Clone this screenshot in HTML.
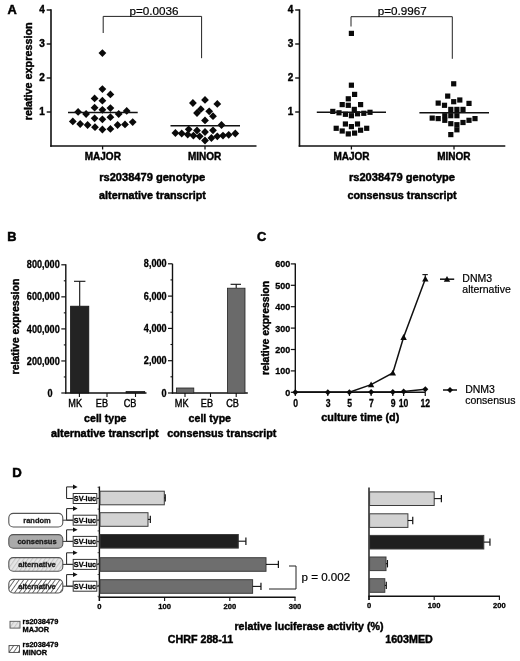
<!DOCTYPE html>
<html><head><meta charset="utf-8"><title>Figure</title>
<style>
html,body{margin:0;padding:0;background:#fff;}
svg{display:block;font-family:'Liberation Sans', Arial, sans-serif;}
</style></head><body>
<svg width="520" height="661" viewBox="0 0 520 661">
<rect width="520" height="661" fill="#fff"/>
<text x="7.5" y="14.3" font-size="12.8" font-weight="bold" text-anchor="start" fill="#000" stroke="#000" stroke-width="0.51" >A</text>
<line x1="51" y1="9.3" x2="51" y2="146.7" stroke="#111" stroke-width="1.6" />
<line x1="50.2" y1="146" x2="256.5" y2="146" stroke="#111" stroke-width="1.6" />
<line x1="46.7" y1="10" x2="51" y2="10" stroke="#111" stroke-width="1.4" />
<text x="44.8" y="13.0" font-size="10" font-weight="bold" text-anchor="end" fill="#000" stroke="#000" stroke-width="0.4" >4</text>
<line x1="46.7" y1="44" x2="51" y2="44" stroke="#111" stroke-width="1.4" />
<text x="44.8" y="47.0" font-size="10" font-weight="bold" text-anchor="end" fill="#000" stroke="#000" stroke-width="0.4" >3</text>
<line x1="46.7" y1="78" x2="51" y2="78" stroke="#111" stroke-width="1.4" />
<text x="44.8" y="81.0" font-size="10" font-weight="bold" text-anchor="end" fill="#000" stroke="#000" stroke-width="0.4" >2</text>
<line x1="46.7" y1="112" x2="51" y2="112" stroke="#111" stroke-width="1.4" />
<text x="44.8" y="115.0" font-size="10" font-weight="bold" text-anchor="end" fill="#000" stroke="#000" stroke-width="0.4" >1</text>
<line x1="102.6" y1="146" x2="102.6" y2="149.5" stroke="#111" stroke-width="1.3" />
<line x1="205" y1="146" x2="205" y2="149.5" stroke="#111" stroke-width="1.3" />
<text x="102.8" y="159.6" font-size="10" font-weight="bold" text-anchor="middle" fill="#000" stroke="#000" stroke-width="0.4" >MAJOR</text>
<text x="204.6" y="159.6" font-size="10" font-weight="bold" text-anchor="middle" fill="#000" stroke="#000" stroke-width="0.4" >MINOR</text>
<text x="32" y="71.3" font-size="10.8" font-weight="bold" text-anchor="middle" fill="#000" stroke="#000" stroke-width="0.43" transform="rotate(-90 32 71.3)">relative expression</text>
<path d="M98.5 53.1L102.4 49.2L106.3 53.1L102.4 57.0Z" fill="#0a0a0a"/>
<path d="M98.5 89.1L102.4 85.2L106.3 89.1L102.4 93.0Z" fill="#0a0a0a"/>
<path d="M106.5 94.4L110.4 90.5L114.3 94.4L110.4 98.3Z" fill="#0a0a0a"/>
<path d="M90.7 98.4L94.6 94.5L98.5 98.4L94.6 102.3Z" fill="#0a0a0a"/>
<path d="M98.5 100.7L102.4 96.8L106.3 100.7L102.4 104.6Z" fill="#0a0a0a"/>
<path d="M90.7 107.7L94.6 103.8L98.5 107.7L94.6 111.6Z" fill="#0a0a0a"/>
<path d="M106.5 108.1L110.4 104.2L114.3 108.1L110.4 112.0Z" fill="#0a0a0a"/>
<path d="M98.5 109.8L102.4 105.9L106.3 109.8L102.4 113.7Z" fill="#0a0a0a"/>
<path d="M74.2 111.9L78.1 108.0L82.0 111.9L78.1 115.8Z" fill="#0a0a0a"/>
<path d="M122.8 110.9L126.7 107.0L130.6 110.9L126.7 114.8Z" fill="#0a0a0a"/>
<path d="M82.2 114.0L86.1 110.1L90.0 114.0L86.1 117.9Z" fill="#0a0a0a"/>
<path d="M114.8 114.0L118.7 110.1L122.6 114.0L118.7 117.9Z" fill="#0a0a0a"/>
<path d="M106.5 117.2L110.4 113.3L114.3 117.2L110.4 121.1Z" fill="#0a0a0a"/>
<path d="M90.7 118.3L94.6 114.4L98.5 118.3L94.6 122.2Z" fill="#0a0a0a"/>
<path d="M98.5 119.3L102.4 115.4L106.3 119.3L102.4 123.2Z" fill="#0a0a0a"/>
<path d="M68.9 121.4L72.8 117.5L76.7 121.4L72.8 125.3Z" fill="#0a0a0a"/>
<path d="M128.8 122.1L132.7 118.2L136.6 122.1L132.7 126.0Z" fill="#0a0a0a"/>
<path d="M76.3 124.0L80.2 120.1L84.1 124.0L80.2 127.9Z" fill="#0a0a0a"/>
<path d="M121.1 124.4L125.0 120.5L128.9 124.4L125.0 128.3Z" fill="#0a0a0a"/>
<path d="M83.7 125.0L87.6 121.1L91.5 125.0L87.6 128.9Z" fill="#0a0a0a"/>
<path d="M113.7 125.0L117.6 121.1L121.5 125.0L117.6 128.9Z" fill="#0a0a0a"/>
<path d="M91.1 127.2L95.0 123.3L98.9 127.2L95.0 131.1Z" fill="#0a0a0a"/>
<path d="M106.5 128.9L110.4 125.0L114.3 128.9L110.4 132.8Z" fill="#0a0a0a"/>
<path d="M98.5 129.5L102.4 125.6L106.3 129.5L102.4 133.4Z" fill="#0a0a0a"/>
<line x1="68" y1="112.5" x2="137.7" y2="112.5" stroke="#111" stroke-width="1.5" />
<path d="M201.1 99.9L205.0 96.0L208.9 99.9L205.0 103.8Z" fill="#0a0a0a"/>
<path d="M189.0 103.0L192.9 99.1L196.8 103.0L192.9 106.9Z" fill="#0a0a0a"/>
<path d="M213.4 103.9L217.3 100.0L221.2 103.9L217.3 107.8Z" fill="#0a0a0a"/>
<path d="M196.9 109.2L200.8 105.3L204.7 109.2L200.8 113.1Z" fill="#0a0a0a"/>
<path d="M205.3 111.3L209.2 107.4L213.1 111.3L209.2 115.2Z" fill="#0a0a0a"/>
<path d="M193.1 113.0L197.0 109.1L200.9 113.0L197.0 116.9Z" fill="#0a0a0a"/>
<path d="M209.1 116.2L213.0 112.3L216.9 116.2L213.0 120.1Z" fill="#0a0a0a"/>
<path d="M201.1 120.4L205.0 116.5L208.9 120.4L205.0 124.3Z" fill="#0a0a0a"/>
<path d="M217.6 125.0L221.5 121.1L225.4 125.0L221.5 128.9Z" fill="#0a0a0a"/>
<path d="M184.8 129.3L188.7 125.4L192.6 129.3L188.7 133.2Z" fill="#0a0a0a"/>
<path d="M193.1 130.5L197.0 126.6L200.9 130.5L197.0 134.4Z" fill="#0a0a0a"/>
<path d="M209.1 130.3L213.0 126.4L216.9 130.3L213.0 134.2Z" fill="#0a0a0a"/>
<path d="M201.1 132.0L205.0 128.1L208.9 132.0L205.0 135.9Z" fill="#0a0a0a"/>
<path d="M171.5 133.0L175.4 129.1L179.3 133.0L175.4 136.9Z" fill="#0a0a0a"/>
<path d="M177.8 133.5L181.7 129.6L185.6 133.5L181.7 137.4Z" fill="#0a0a0a"/>
<path d="M183.8 134.6L187.7 130.7L191.6 134.6L187.7 138.5Z" fill="#0a0a0a"/>
<path d="M189.5 135.6L193.4 131.7L197.3 135.6L193.4 139.5Z" fill="#0a0a0a"/>
<path d="M195.8 136.3L199.7 132.4L203.6 136.3L199.7 140.2Z" fill="#0a0a0a"/>
<path d="M231.4 133.5L235.3 129.6L239.2 133.5L235.3 137.4Z" fill="#0a0a0a"/>
<path d="M224.8 134.8L228.7 130.9L232.6 134.8L228.7 138.7Z" fill="#0a0a0a"/>
<path d="M219.1 135.6L223.0 131.7L226.9 135.6L223.0 139.5Z" fill="#0a0a0a"/>
<path d="M213.4 136.3L217.3 132.4L221.2 136.3L217.3 140.2Z" fill="#0a0a0a"/>
<path d="M207.5 138.0L211.4 134.1L215.3 138.0L211.4 141.9Z" fill="#0a0a0a"/>
<path d="M201.1 140.5L205.0 136.6L208.9 140.5L205.0 144.4Z" fill="#0a0a0a"/>
<line x1="170.5" y1="125.7" x2="240" y2="125.7" stroke="#111" stroke-width="1.5" />
<path d="M103.2 33V16.4H201.6V58.2" fill="none" stroke="#222" stroke-width="1"/>
<text x="154" y="15.2" font-size="11.7" font-weight="normal" text-anchor="middle" fill="#000" stroke="#000" stroke-width="0.2" >p=0.0036</text>
<text x="152.2" y="181.4" font-size="11.1" font-weight="bold" text-anchor="middle" fill="#000" stroke="#000" stroke-width="0.44" >rs2038479 genotype</text>
<text x="152.5" y="198.6" font-size="10.8" font-weight="bold" text-anchor="middle" fill="#000" stroke="#000" stroke-width="0.43" >alternative transcript</text>
<line x1="299.5" y1="9.3" x2="299.5" y2="146.7" stroke="#111" stroke-width="1.6" />
<line x1="298.7" y1="146" x2="505.3" y2="146" stroke="#111" stroke-width="1.6" />
<line x1="295.2" y1="10" x2="299.5" y2="10" stroke="#111" stroke-width="1.4" />
<text x="293.3" y="13.0" font-size="10" font-weight="bold" text-anchor="end" fill="#000" stroke="#000" stroke-width="0.4" >4</text>
<line x1="295.2" y1="44" x2="299.5" y2="44" stroke="#111" stroke-width="1.4" />
<text x="293.3" y="47.0" font-size="10" font-weight="bold" text-anchor="end" fill="#000" stroke="#000" stroke-width="0.4" >3</text>
<line x1="295.2" y1="78" x2="299.5" y2="78" stroke="#111" stroke-width="1.4" />
<text x="293.3" y="81.0" font-size="10" font-weight="bold" text-anchor="end" fill="#000" stroke="#000" stroke-width="0.4" >2</text>
<line x1="295.2" y1="112" x2="299.5" y2="112" stroke="#111" stroke-width="1.4" />
<text x="293.3" y="115.0" font-size="10" font-weight="bold" text-anchor="end" fill="#000" stroke="#000" stroke-width="0.4" >1</text>
<line x1="351.4" y1="146" x2="351.4" y2="149.5" stroke="#111" stroke-width="1.3" />
<line x1="454" y1="146" x2="454" y2="149.5" stroke="#111" stroke-width="1.3" />
<text x="351.5" y="159.6" font-size="10" font-weight="bold" text-anchor="middle" fill="#000" stroke="#000" stroke-width="0.4" >MAJOR</text>
<text x="453.8" y="159.6" font-size="10" font-weight="bold" text-anchor="middle" fill="#000" stroke="#000" stroke-width="0.4" >MINOR</text>
<rect x="348.8" y="30.8" width="5.2" height="5.2" fill="#0a0a0a"/>
<rect x="348.8" y="82.6" width="5.2" height="5.2" fill="#0a0a0a"/>
<rect x="352.0" y="91.8" width="5.2" height="5.2" fill="#0a0a0a"/>
<rect x="345.7" y="96.2" width="5.2" height="5.2" fill="#0a0a0a"/>
<rect x="339.6" y="102.0" width="5.2" height="5.2" fill="#0a0a0a"/>
<rect x="345.7" y="102.7" width="5.2" height="5.2" fill="#0a0a0a"/>
<rect x="358.0" y="102.0" width="5.2" height="5.2" fill="#0a0a0a"/>
<rect x="351.7" y="106.8" width="5.2" height="5.2" fill="#0a0a0a"/>
<rect x="330.2" y="108.8" width="5.2" height="5.2" fill="#0a0a0a"/>
<rect x="336.4" y="110.2" width="5.2" height="5.2" fill="#0a0a0a"/>
<rect x="342.8" y="111.7" width="5.2" height="5.2" fill="#0a0a0a"/>
<rect x="348.8" y="113.1" width="5.2" height="5.2" fill="#0a0a0a"/>
<rect x="354.9" y="111.2" width="5.2" height="5.2" fill="#0a0a0a"/>
<rect x="361.2" y="110.7" width="5.2" height="5.2" fill="#0a0a0a"/>
<rect x="367.4" y="109.7" width="5.2" height="5.2" fill="#0a0a0a"/>
<rect x="342.8" y="121.4" width="5.2" height="5.2" fill="#0a0a0a"/>
<rect x="354.9" y="121.4" width="5.2" height="5.2" fill="#0a0a0a"/>
<rect x="348.8" y="124.0" width="5.2" height="5.2" fill="#0a0a0a"/>
<rect x="333.6" y="125.7" width="5.2" height="5.2" fill="#0a0a0a"/>
<rect x="364.1" y="125.7" width="5.2" height="5.2" fill="#0a0a0a"/>
<rect x="339.6" y="128.4" width="5.2" height="5.2" fill="#0a0a0a"/>
<rect x="358.0" y="127.6" width="5.2" height="5.2" fill="#0a0a0a"/>
<rect x="345.7" y="131.3" width="5.2" height="5.2" fill="#0a0a0a"/>
<rect x="352.0" y="130.5" width="5.2" height="5.2" fill="#0a0a0a"/>
<line x1="316.8" y1="112.3" x2="386" y2="112.3" stroke="#111" stroke-width="1.5" />
<rect x="451.1" y="81.2" width="5.2" height="5.2" fill="#0a0a0a"/>
<rect x="445.1" y="93.5" width="5.2" height="5.2" fill="#0a0a0a"/>
<rect x="457.2" y="97.4" width="5.2" height="5.2" fill="#0a0a0a"/>
<rect x="451.1" y="99.1" width="5.2" height="5.2" fill="#0a0a0a"/>
<rect x="435.6" y="100.5" width="5.2" height="5.2" fill="#0a0a0a"/>
<rect x="466.4" y="100.8" width="5.2" height="5.2" fill="#0a0a0a"/>
<rect x="441.9" y="102.7" width="5.2" height="5.2" fill="#0a0a0a"/>
<rect x="448.2" y="106.8" width="5.2" height="5.2" fill="#0a0a0a"/>
<rect x="454.3" y="106.8" width="5.2" height="5.2" fill="#0a0a0a"/>
<rect x="460.4" y="106.8" width="5.2" height="5.2" fill="#0a0a0a"/>
<rect x="442.2" y="113.1" width="5.2" height="5.2" fill="#0a0a0a"/>
<rect x="448.2" y="113.1" width="5.2" height="5.2" fill="#0a0a0a"/>
<rect x="454.3" y="113.1" width="5.2" height="5.2" fill="#0a0a0a"/>
<rect x="429.6" y="115.5" width="5.2" height="5.2" fill="#0a0a0a"/>
<rect x="435.6" y="116.0" width="5.2" height="5.2" fill="#0a0a0a"/>
<rect x="442.2" y="117.7" width="5.2" height="5.2" fill="#0a0a0a"/>
<rect x="472.4" y="116.0" width="5.2" height="5.2" fill="#0a0a0a"/>
<rect x="466.4" y="117.7" width="5.2" height="5.2" fill="#0a0a0a"/>
<rect x="460.4" y="119.9" width="5.2" height="5.2" fill="#0a0a0a"/>
<rect x="448.2" y="121.1" width="5.2" height="5.2" fill="#0a0a0a"/>
<rect x="454.3" y="122.1" width="5.2" height="5.2" fill="#0a0a0a"/>
<rect x="454.3" y="127.2" width="5.2" height="5.2" fill="#0a0a0a"/>
<rect x="448.2" y="132.0" width="5.2" height="5.2" fill="#0a0a0a"/>
<line x1="419.4" y1="112.8" x2="489" y2="112.8" stroke="#111" stroke-width="1.5" />
<path d="M351 26.5V16.7H452.3V58.8" fill="none" stroke="#222" stroke-width="1"/>
<text x="402.2" y="15.2" font-size="11.7" font-weight="normal" text-anchor="middle" fill="#000" stroke="#000" stroke-width="0.2" >p=0.9967</text>
<text x="402" y="181.4" font-size="11.1" font-weight="bold" text-anchor="middle" fill="#000" stroke="#000" stroke-width="0.44" >rs2038479 genotype</text>
<text x="402" y="198.6" font-size="10.8" font-weight="bold" text-anchor="middle" fill="#000" stroke="#000" stroke-width="0.43" >consensus transcript</text>
<text x="7.3" y="240.7" font-size="12.8" font-weight="bold" text-anchor="start" fill="#000" stroke="#000" stroke-width="0.51" >B</text>
<line x1="65.8" y1="264.3" x2="65.8" y2="393.6" stroke="#111" stroke-width="1.4" />
<line x1="65.1" y1="393" x2="146.5" y2="393" stroke="#111" stroke-width="1.4" />
<line x1="61.3" y1="264.8" x2="65.8" y2="264.8" stroke="#111" stroke-width="1.2" />
<text transform="translate(59.7 268.40000000000003) scale(0.91 1)" font-size="10" font-weight="bold" text-anchor="end" fill="#000" stroke="#000" stroke-width="0.3">800,000</text>
<line x1="63.8" y1="280.8" x2="65.8" y2="280.8" stroke="#111" stroke-width="1.1" />
<line x1="61.3" y1="296.85" x2="65.8" y2="296.85" stroke="#111" stroke-width="1.2" />
<text transform="translate(59.7 300.45000000000005) scale(0.91 1)" font-size="10" font-weight="bold" text-anchor="end" fill="#000" stroke="#000" stroke-width="0.3">600,000</text>
<line x1="63.8" y1="312.85" x2="65.8" y2="312.85" stroke="#111" stroke-width="1.1" />
<line x1="61.3" y1="328.9" x2="65.8" y2="328.9" stroke="#111" stroke-width="1.2" />
<text transform="translate(59.7 332.5) scale(0.91 1)" font-size="10" font-weight="bold" text-anchor="end" fill="#000" stroke="#000" stroke-width="0.3">400,000</text>
<line x1="63.8" y1="344.9" x2="65.8" y2="344.9" stroke="#111" stroke-width="1.1" />
<line x1="61.3" y1="360.95" x2="65.8" y2="360.95" stroke="#111" stroke-width="1.2" />
<text transform="translate(59.7 364.55) scale(0.91 1)" font-size="10" font-weight="bold" text-anchor="end" fill="#000" stroke="#000" stroke-width="0.3">200,000</text>
<line x1="63.8" y1="376.95" x2="65.8" y2="376.95" stroke="#111" stroke-width="1.1" />
<line x1="61.3" y1="393.0" x2="65.8" y2="393.0" stroke="#111" stroke-width="1.2" />
<text transform="translate(50 396.8) scale(0.91 1)" font-size="10" font-weight="bold" text-anchor="middle" fill="#000" stroke="#000" stroke-width="0.3">0</text>
<rect x="70.6" y="306.2" width="18.2" height="86.8" fill="#232323" stroke="#111" stroke-width="0.8"/>
<line x1="79.7" y1="281.3" x2="79.7" y2="306" stroke="#111" stroke-width="1.1" />
<line x1="74" y1="281.3" x2="85.4" y2="281.3" stroke="#111" stroke-width="1.1" />
<rect x="126" y="391.3" width="18.8" height="1.7" fill="#232323" stroke="#111" stroke-width="0.6"/>
<line x1="79.4" y1="393" x2="79.4" y2="397" stroke="#111" stroke-width="1.1" />
<line x1="107" y1="393" x2="107" y2="397" stroke="#111" stroke-width="1.1" />
<line x1="135.5" y1="393" x2="135.5" y2="397" stroke="#111" stroke-width="1.1" />
<text transform="translate(75.2 407.3) scale(0.85 1)" font-size="10.8" font-weight="normal" text-anchor="middle" fill="#000" stroke="#000" stroke-width="0.4">MK</text>
<text transform="translate(102 407.3) scale(0.85 1)" font-size="10.8" font-weight="normal" text-anchor="middle" fill="#000" stroke="#000" stroke-width="0.4">EB</text>
<text transform="translate(130 407.3) scale(0.85 1)" font-size="10.8" font-weight="normal" text-anchor="middle" fill="#000" stroke="#000" stroke-width="0.4">CB</text>
<text x="18.7" y="326.5" font-size="10.6" font-weight="bold" text-anchor="middle" fill="#000" stroke="#000" stroke-width="0.42" transform="rotate(-90 18.7 326.5)">relative expression</text>
<text x="105.3" y="422" font-size="10.6" font-weight="bold" text-anchor="middle" fill="#000" stroke="#000" stroke-width="0.42" >cell type</text>
<text x="104.8" y="437" font-size="10.9" font-weight="bold" text-anchor="middle" fill="#000" stroke="#000" stroke-width="0.44" >alternative transcript</text>
<line x1="172.5" y1="263.8" x2="172.5" y2="393.6" stroke="#111" stroke-width="1.4" />
<line x1="171.8" y1="393" x2="247.8" y2="393" stroke="#111" stroke-width="1.4" />
<line x1="168.0" y1="263.8" x2="172.5" y2="263.8" stroke="#111" stroke-width="1.2" />
<text transform="translate(166.6 267.40000000000003) scale(0.91 1)" font-size="10" font-weight="bold" text-anchor="end" fill="#000" stroke="#000" stroke-width="0.3">8,000</text>
<line x1="170.5" y1="279.90000000000003" x2="172.5" y2="279.90000000000003" stroke="#111" stroke-width="1.1" />
<line x1="168.0" y1="296.1" x2="172.5" y2="296.1" stroke="#111" stroke-width="1.2" />
<text transform="translate(166.6 299.70000000000005) scale(0.91 1)" font-size="10" font-weight="bold" text-anchor="end" fill="#000" stroke="#000" stroke-width="0.3">6,000</text>
<line x1="170.5" y1="312.20000000000005" x2="172.5" y2="312.20000000000005" stroke="#111" stroke-width="1.1" />
<line x1="168.0" y1="328.4" x2="172.5" y2="328.4" stroke="#111" stroke-width="1.2" />
<text transform="translate(166.6 332.0) scale(0.91 1)" font-size="10" font-weight="bold" text-anchor="end" fill="#000" stroke="#000" stroke-width="0.3">4,000</text>
<line x1="170.5" y1="344.5" x2="172.5" y2="344.5" stroke="#111" stroke-width="1.1" />
<line x1="168.0" y1="360.7" x2="172.5" y2="360.7" stroke="#111" stroke-width="1.2" />
<text transform="translate(166.6 364.3) scale(0.91 1)" font-size="10" font-weight="bold" text-anchor="end" fill="#000" stroke="#000" stroke-width="0.3">2,000</text>
<line x1="170.5" y1="376.8" x2="172.5" y2="376.8" stroke="#111" stroke-width="1.1" />
<line x1="168.0" y1="393.0" x2="172.5" y2="393.0" stroke="#111" stroke-width="1.2" />
<text transform="translate(166.6 396.6) scale(0.91 1)" font-size="10" font-weight="bold" text-anchor="end" fill="#000" stroke="#000" stroke-width="0.3">0</text>
<rect x="176.4" y="388" width="17.4" height="5" fill="#6a6a6a" stroke="#222" stroke-width="0.8"/>
<rect x="227.4" y="288.2" width="17.6" height="104.8" fill="#6a6a6a" stroke="#222" stroke-width="0.8"/>
<line x1="236.2" y1="284.3" x2="236.2" y2="288" stroke="#111" stroke-width="1.1" />
<line x1="230.6" y1="284.3" x2="241" y2="284.3" stroke="#111" stroke-width="1.1" />
<line x1="185" y1="393" x2="185" y2="397" stroke="#111" stroke-width="1.1" />
<line x1="210.5" y1="393" x2="210.5" y2="397" stroke="#111" stroke-width="1.1" />
<line x1="236.2" y1="393" x2="236.2" y2="397" stroke="#111" stroke-width="1.1" />
<text transform="translate(181.7 407.3) scale(0.85 1)" font-size="10.8" font-weight="normal" text-anchor="middle" fill="#000" stroke="#000" stroke-width="0.4">MK</text>
<text transform="translate(207 407.3) scale(0.85 1)" font-size="10.8" font-weight="normal" text-anchor="middle" fill="#000" stroke="#000" stroke-width="0.4">EB</text>
<text transform="translate(232.6 407.3) scale(0.85 1)" font-size="10.8" font-weight="normal" text-anchor="middle" fill="#000" stroke="#000" stroke-width="0.4">CB</text>
<text x="209.8" y="422" font-size="10.6" font-weight="bold" text-anchor="middle" fill="#000" stroke="#000" stroke-width="0.42" >cell type</text>
<text x="221.8" y="437" font-size="10.8" font-weight="bold" text-anchor="middle" fill="#000" stroke="#000" stroke-width="0.43" >consensus transcript</text>
<text x="257" y="240.7" font-size="12.8" font-weight="bold" text-anchor="start" fill="#000" stroke="#000" stroke-width="0.51" >C</text>
<line x1="295.3" y1="263.4" x2="295.3" y2="393" stroke="#111" stroke-width="1.4" />
<line x1="294.6" y1="392.3" x2="425.4" y2="392.3" stroke="#111" stroke-width="1.6" />
<line x1="290.8" y1="263.9" x2="295.3" y2="263.9" stroke="#111" stroke-width="1.2" />
<text transform="translate(290.3 267.4) scale(0.93 1)" font-size="9.7" font-weight="bold" text-anchor="end" fill="#000" stroke="#000" stroke-width="0.3">600</text>
<line x1="290.8" y1="285.29999999999995" x2="295.3" y2="285.29999999999995" stroke="#111" stroke-width="1.2" />
<text transform="translate(290.3 288.79999999999995) scale(0.93 1)" font-size="9.7" font-weight="bold" text-anchor="end" fill="#000" stroke="#000" stroke-width="0.3">500</text>
<line x1="290.8" y1="306.7" x2="295.3" y2="306.7" stroke="#111" stroke-width="1.2" />
<text transform="translate(290.3 310.2) scale(0.93 1)" font-size="9.7" font-weight="bold" text-anchor="end" fill="#000" stroke="#000" stroke-width="0.3">400</text>
<line x1="290.8" y1="328.09999999999997" x2="295.3" y2="328.09999999999997" stroke="#111" stroke-width="1.2" />
<text transform="translate(290.3 331.59999999999997) scale(0.93 1)" font-size="9.7" font-weight="bold" text-anchor="end" fill="#000" stroke="#000" stroke-width="0.3">300</text>
<line x1="290.8" y1="349.5" x2="295.3" y2="349.5" stroke="#111" stroke-width="1.2" />
<text transform="translate(290.3 353.0) scale(0.93 1)" font-size="9.7" font-weight="bold" text-anchor="end" fill="#000" stroke="#000" stroke-width="0.3">200</text>
<line x1="290.8" y1="370.9" x2="295.3" y2="370.9" stroke="#111" stroke-width="1.2" />
<text transform="translate(290.3 374.4) scale(0.93 1)" font-size="9.7" font-weight="bold" text-anchor="end" fill="#000" stroke="#000" stroke-width="0.3">100</text>
<line x1="290.8" y1="392.29999999999995" x2="295.3" y2="392.29999999999995" stroke="#111" stroke-width="1.2" />
<text transform="translate(290.3 395.79999999999995) scale(0.93 1)" font-size="9.7" font-weight="bold" text-anchor="end" fill="#000" stroke="#000" stroke-width="0.3">0</text>
<line x1="295.3" y1="392.3" x2="295.3" y2="396" stroke="#111" stroke-width="1.2" />
<text transform="translate(295.6 406.9) scale(0.8 1)" font-size="10.8" font-weight="bold" text-anchor="middle" fill="#000" stroke="#000" stroke-width="0.3">0</text>
<line x1="327.79" y1="392.3" x2="327.79" y2="396" stroke="#111" stroke-width="1.2" />
<text transform="translate(328.09000000000003 406.9) scale(0.8 1)" font-size="10.8" font-weight="bold" text-anchor="middle" fill="#000" stroke="#000" stroke-width="0.3">3</text>
<line x1="349.45" y1="392.3" x2="349.45" y2="396" stroke="#111" stroke-width="1.2" />
<text transform="translate(349.75 406.9) scale(0.8 1)" font-size="10.8" font-weight="bold" text-anchor="middle" fill="#000" stroke="#000" stroke-width="0.3">5</text>
<line x1="371.11" y1="392.3" x2="371.11" y2="396" stroke="#111" stroke-width="1.2" />
<text transform="translate(371.41 406.9) scale(0.8 1)" font-size="10.8" font-weight="bold" text-anchor="middle" fill="#000" stroke="#000" stroke-width="0.3">7</text>
<line x1="392.77" y1="392.3" x2="392.77" y2="396" stroke="#111" stroke-width="1.2" />
<text transform="translate(393.07 406.9) scale(0.8 1)" font-size="10.8" font-weight="bold" text-anchor="middle" fill="#000" stroke="#000" stroke-width="0.3">9</text>
<line x1="403.6" y1="392.3" x2="403.6" y2="396" stroke="#111" stroke-width="1.2" />
<text transform="translate(403.6 406.9) scale(0.8 1)" font-size="10.8" font-weight="bold" text-anchor="middle" fill="#000" stroke="#000" stroke-width="0.3">10</text>
<line x1="425.26" y1="392.3" x2="425.26" y2="396" stroke="#111" stroke-width="1.2" />
<text transform="translate(425.26 406.9) scale(0.8 1)" font-size="10.8" font-weight="bold" text-anchor="middle" fill="#000" stroke="#000" stroke-width="0.3">12</text>
<polyline points="295.3,392.3 327.8,392.3 349.4,392.3 371.1,384.6 392.8,373.0 403.6,337.3 425.3,278.9" fill="none" stroke="#111" stroke-width="1.5"/>
<polyline points="295.3,392.3 327.8,392.3 349.4,392.3 371.1,392.1 392.8,392.0 403.6,391.4 425.3,389.3" fill="none" stroke="#111" stroke-width="1.5"/>
<path d="M367.9 387.2L371.1 381.4L374.3 387.2Z" fill="#0a0a0a"/>
<path d="M389.6 375.6L392.8 369.8L396.0 375.6Z" fill="#0a0a0a"/>
<path d="M400.4 339.9L403.6 334.1L406.8 339.9Z" fill="#0a0a0a"/>
<path d="M422.1 281.4L425.3 275.7L428.5 281.4Z" fill="#0a0a0a"/>
<path d="M292.3 392.3L295.3 389.3L298.3 392.3L295.3 395.3Z" fill="#0a0a0a"/>
<path d="M324.8 392.3L327.8 389.3L330.8 392.3L327.8 395.3Z" fill="#0a0a0a"/>
<path d="M346.4 392.3L349.4 389.3L352.4 392.3L349.4 395.3Z" fill="#0a0a0a"/>
<path d="M368.1 392.1L371.1 389.1L374.1 392.1L371.1 395.1Z" fill="#0a0a0a"/>
<path d="M389.8 392.0L392.8 389.0L395.8 392.0L392.8 395.0Z" fill="#0a0a0a"/>
<path d="M400.6 391.4L403.6 388.4L406.6 391.4L403.6 394.4Z" fill="#0a0a0a"/>
<path d="M422.3 389.3L425.3 386.3L428.3 389.3L425.3 392.3Z" fill="#0a0a0a"/>
<line x1="425.26" y1="274.6" x2="425.26" y2="279" stroke="#111" stroke-width="1.1" />
<line x1="422.4" y1="274.6" x2="427.8" y2="274.6" stroke="#111" stroke-width="1.1" />
<text x="269.2" y="328" font-size="10.4" font-weight="bold" text-anchor="middle" fill="#000" stroke="#000" stroke-width="0.42" transform="rotate(-90 269.2 328)">relative expression</text>
<text x="360.3" y="421.2" font-size="10.8" font-weight="bold" text-anchor="middle" fill="#000" stroke="#000" stroke-width="0.43" >culture time (d)</text>
<line x1="440" y1="279.2" x2="454.2" y2="279.2" stroke="#111" stroke-width="1.5" />
<path d="M443.8 281.8L447.0 276.0L450.2 281.8Z" fill="#0a0a0a"/>
<text x="462.3" y="281.6" font-size="10.5" font-weight="normal" text-anchor="start" fill="#000" stroke="#000" stroke-width="0.2" >DNM3</text>
<text x="462.3" y="292.8" font-size="10.5" font-weight="normal" text-anchor="start" fill="#000" stroke="#000" stroke-width="0.2" >alternative</text>
<line x1="443" y1="390" x2="457" y2="390" stroke="#111" stroke-width="1.5" />
<path d="M447.0 390.0L450.0 387.0L453.0 390.0L450.0 393.0Z" fill="#0a0a0a"/>
<text x="465.2" y="393.2" font-size="10.5" font-weight="normal" text-anchor="start" fill="#000" stroke="#000" stroke-width="0.2" >DNM3</text>
<text x="465.2" y="404.2" font-size="10.5" font-weight="normal" text-anchor="start" fill="#000" stroke="#000" stroke-width="0.2" >consensus</text>
<text x="12.3" y="477" font-size="13.2" font-weight="bold" text-anchor="start" fill="#000" stroke="#000" stroke-width="0.53" >D</text>
<defs>
<pattern id="hl" width="3.5" height="3.5" patternUnits="userSpaceOnUse" patternTransform="rotate(35)"><rect width="3.5" height="3.5" fill="#e6e6e6"/><rect width="1.1" height="3.5" fill="#c6c6c6"/></pattern>
<pattern id="hd" width="3.7" height="3.7" patternUnits="userSpaceOnUse" patternTransform="rotate(35)"><rect width="3.7" height="3.7" fill="#fff"/><rect width="0.8" height="3.7" fill="#505050"/></pattern>
</defs>
<line x1="99.4" y1="486.5" x2="99.4" y2="601" stroke="#111" stroke-width="1.4" />
<line x1="98.7" y1="597.2" x2="295.6" y2="597.2" stroke="#111" stroke-width="1.4" />
<line x1="97.6" y1="487.3" x2="99.4" y2="487.3" stroke="#333" stroke-width="0.9" />
<line x1="97.6" y1="498.2" x2="99.4" y2="498.2" stroke="#333" stroke-width="0.9" />
<line x1="97.6" y1="509.1" x2="99.4" y2="509.1" stroke="#333" stroke-width="0.9" />
<line x1="97.6" y1="520.0" x2="99.4" y2="520.0" stroke="#333" stroke-width="0.9" />
<line x1="97.6" y1="530.9" x2="99.4" y2="530.9" stroke="#333" stroke-width="0.9" />
<line x1="97.6" y1="541.8" x2="99.4" y2="541.8" stroke="#333" stroke-width="0.9" />
<line x1="97.6" y1="552.7" x2="99.4" y2="552.7" stroke="#333" stroke-width="0.9" />
<line x1="97.6" y1="563.6" x2="99.4" y2="563.6" stroke="#333" stroke-width="0.9" />
<line x1="97.6" y1="574.5" x2="99.4" y2="574.5" stroke="#333" stroke-width="0.9" />
<line x1="97.6" y1="585.4" x2="99.4" y2="585.4" stroke="#333" stroke-width="0.9" />
<line x1="97.6" y1="596.3" x2="99.4" y2="596.3" stroke="#333" stroke-width="0.9" />
<path d="M73 498.5H66.6V486.9H73.5" fill="none" stroke="#222" stroke-width="1"/>
<path d="M73 484.6L77.6 486.9L73 489.2Z" fill="#111"/>
<rect x="73.2" y="493.5" width="23.6" height="10" fill="#fff" stroke="#333" stroke-width="1"/>
<line x1="96.8" y1="498.5" x2="99.4" y2="498.5" stroke="#333" stroke-width="1" />
<text x="85" y="501.2" font-size="7.3" font-weight="bold" text-anchor="middle" fill="#000" stroke="#000" stroke-width="0.29" >SV-luc</text>
<path d="M73 520.2H66.6V508.6H73.5" fill="none" stroke="#222" stroke-width="1"/>
<path d="M73 506.30000000000007L77.6 508.6L73 510.90000000000003Z" fill="#111"/>
<rect x="73.2" y="515.2" width="23.6" height="10" fill="#fff" stroke="#333" stroke-width="1"/>
<line x1="96.8" y1="520.2" x2="99.4" y2="520.2" stroke="#333" stroke-width="1" />
<text x="85" y="522.9000000000001" font-size="7.3" font-weight="bold" text-anchor="middle" fill="#000" stroke="#000" stroke-width="0.29" >SV-luc</text>
<path d="M73 541.4H66.6V529.8H73.5" fill="none" stroke="#222" stroke-width="1"/>
<path d="M73 527.5L77.6 529.8L73 532.1Z" fill="#111"/>
<rect x="73.2" y="536.4" width="23.6" height="10" fill="#fff" stroke="#333" stroke-width="1"/>
<line x1="96.8" y1="541.4" x2="99.4" y2="541.4" stroke="#333" stroke-width="1" />
<text x="85" y="544.1" font-size="7.3" font-weight="bold" text-anchor="middle" fill="#000" stroke="#000" stroke-width="0.29" >SV-luc</text>
<path d="M73 564.4H66.6V552.8H73.5" fill="none" stroke="#222" stroke-width="1"/>
<path d="M73 550.5L77.6 552.8L73 555.1Z" fill="#111"/>
<rect x="73.2" y="559.4" width="23.6" height="10" fill="#fff" stroke="#333" stroke-width="1"/>
<line x1="96.8" y1="564.4" x2="99.4" y2="564.4" stroke="#333" stroke-width="1" />
<text x="85" y="567.1" font-size="7.3" font-weight="bold" text-anchor="middle" fill="#000" stroke="#000" stroke-width="0.29" >SV-luc</text>
<path d="M73 586.2H66.6V574.6H73.5" fill="none" stroke="#222" stroke-width="1"/>
<path d="M73 572.3000000000001L77.6 574.6L73 576.9000000000001Z" fill="#111"/>
<rect x="73.2" y="581.2" width="23.6" height="10" fill="#fff" stroke="#333" stroke-width="1"/>
<line x1="96.8" y1="586.2" x2="99.4" y2="586.2" stroke="#333" stroke-width="1" />
<text x="85" y="588.9000000000001" font-size="7.3" font-weight="bold" text-anchor="middle" fill="#000" stroke="#000" stroke-width="0.29" >SV-luc</text>
<rect x="8.8" y="513.4000000000001" width="54" height="13.6" rx="4.5" fill="#fff" stroke="#555" stroke-width="1.1"/>
<line x1="62.8" y1="520.2" x2="73" y2="520.2" stroke="#333" stroke-width="1" />
<text x="37" y="522.9000000000001" font-size="7.5" font-weight="bold" text-anchor="middle" fill="#1a1a1a" stroke="#1a1a1a" stroke-width="0.3" >random</text>
<rect x="8.8" y="534.6" width="54" height="13.6" rx="4.5" fill="#aaaaaa" stroke="#555" stroke-width="1.1"/>
<line x1="62.8" y1="541.4" x2="73" y2="541.4" stroke="#333" stroke-width="1" />
<text x="37" y="544.1" font-size="7.5" font-weight="bold" text-anchor="middle" fill="#1a1a1a" stroke="#1a1a1a" stroke-width="0.3" >consensus</text>
<rect x="8.8" y="557.6" width="54" height="13.6" rx="4.5" fill="url(#hl)" stroke="#555" stroke-width="1.1"/>
<line x1="62.8" y1="564.4" x2="73" y2="564.4" stroke="#333" stroke-width="1" />
<text x="37" y="567.1" font-size="7.5" font-weight="bold" text-anchor="middle" fill="#1a1a1a" stroke="#1a1a1a" stroke-width="0.3" >alternative</text>
<rect x="8.8" y="579.4000000000001" width="54" height="13.6" rx="4.5" fill="url(#hd)" stroke="#555" stroke-width="1.1"/>
<line x1="62.8" y1="586.2" x2="73" y2="586.2" stroke="#333" stroke-width="1" />
<text x="37" y="588.9000000000001" font-size="7.5" font-weight="bold" text-anchor="middle" fill="#1a1a1a" stroke="#1a1a1a" stroke-width="0.3" >alternative</text>
<rect x="100.0" y="491.2" width="64.3" height="13.6" fill="#d2d2d2" stroke="#3c3c3c" stroke-width="1"/>
<line x1="164.274" y1="497.9" x2="165.252" y2="497.9" stroke="#111" stroke-width="1.1" />
<line x1="165.252" y1="494.2" x2="165.252" y2="501.59999999999997" stroke="#111" stroke-width="1.2" />
<rect x="100.0" y="512.6999999999999" width="48.0" height="13.6" fill="#d2d2d2" stroke="#3c3c3c" stroke-width="1"/>
<line x1="147.97400000000002" y1="519.4" x2="150.3212" y2="519.4" stroke="#111" stroke-width="1.1" />
<line x1="150.3212" y1="515.6999999999999" x2="150.3212" y2="523.1" stroke="#111" stroke-width="1.2" />
<rect x="100.0" y="534.5" width="138.3" height="13.6" fill="#1f1f1f" stroke="#3c3c3c" stroke-width="1"/>
<line x1="238.276" y1="541.2" x2="245.9044" y2="541.2" stroke="#111" stroke-width="1.1" />
<line x1="245.9044" y1="537.5" x2="245.9044" y2="544.9000000000001" stroke="#111" stroke-width="1.2" />
<rect x="100.0" y="557.6999999999999" width="166.0" height="13.6" fill="#6e6e6e" stroke="#3c3c3c" stroke-width="1"/>
<line x1="265.986" y1="564.4" x2="278.374" y2="564.4" stroke="#111" stroke-width="1.1" />
<line x1="278.374" y1="560.6999999999999" x2="278.374" y2="568.1" stroke="#111" stroke-width="1.2" />
<rect x="100.0" y="579.6999999999999" width="152.6" height="13.6" fill="#6e6e6e" stroke="#3c3c3c" stroke-width="1"/>
<line x1="252.62" y1="586.4" x2="260.9656" y2="586.4" stroke="#111" stroke-width="1.1" />
<line x1="260.9656" y1="582.6999999999999" x2="260.9656" y2="590.1" stroke="#111" stroke-width="1.2" />
<line x1="99.4" y1="597.2" x2="99.4" y2="601" stroke="#111" stroke-width="1.1" />
<text x="99.4" y="609.4" font-size="7.6" font-weight="bold" text-anchor="middle" fill="#000" stroke="#000" stroke-width="0.3" >0</text>
<line x1="164.60000000000002" y1="597.2" x2="164.60000000000002" y2="601" stroke="#111" stroke-width="1.1" />
<text x="164.60000000000002" y="609.4" font-size="7.6" font-weight="bold" text-anchor="middle" fill="#000" stroke="#000" stroke-width="0.3" >100</text>
<line x1="229.8" y1="597.2" x2="229.8" y2="601" stroke="#111" stroke-width="1.1" />
<text x="229.8" y="609.4" font-size="7.6" font-weight="bold" text-anchor="middle" fill="#000" stroke="#000" stroke-width="0.3" >200</text>
<line x1="295.0" y1="597.2" x2="295.0" y2="601" stroke="#111" stroke-width="1.1" />
<text x="295.0" y="609.4" font-size="7.6" font-weight="bold" text-anchor="middle" fill="#000" stroke="#000" stroke-width="0.3" >300</text>
<path d="M289 566H296V589H269" fill="none" stroke="#222" stroke-width="1"/>
<text x="301.5" y="580.6" font-size="11.6" font-weight="normal" text-anchor="start" fill="#000" stroke="#000" stroke-width="0.2" >p = 0.002</text>
<line x1="369" y1="487.4" x2="369" y2="600" stroke="#111" stroke-width="1.4" />
<line x1="368.3" y1="596.3" x2="500" y2="596.3" stroke="#111" stroke-width="1.4" />
<rect x="369.6" y="491.90000000000003" width="64.6" height="13.6" fill="#d2d2d2" stroke="#3c3c3c" stroke-width="1"/>
<line x1="434.2" y1="498.6" x2="441.372" y2="498.6" stroke="#111" stroke-width="1.1" />
<line x1="441.372" y1="494.90000000000003" x2="441.372" y2="502.3" stroke="#111" stroke-width="1.2" />
<rect x="369.6" y="513.8" width="38.3" height="13.6" fill="#d2d2d2" stroke="#3c3c3c" stroke-width="1"/>
<line x1="407.8592" y1="520.5" x2="412.7492" y2="520.5" stroke="#111" stroke-width="1.1" />
<line x1="412.7492" y1="516.8" x2="412.7492" y2="524.2" stroke="#111" stroke-width="1.2" />
<rect x="369.6" y="535.4" width="114.2" height="13.6" fill="#1f1f1f" stroke="#3c3c3c" stroke-width="1"/>
<line x1="483.752" y1="542.1" x2="489.946" y2="542.1" stroke="#111" stroke-width="1.1" />
<line x1="489.946" y1="538.4" x2="489.946" y2="545.8000000000001" stroke="#111" stroke-width="1.2" />
<rect x="369.6" y="557.0" width="16.4" height="13.6" fill="#6e6e6e" stroke="#3c3c3c" stroke-width="1"/>
<line x1="385.952" y1="563.7" x2="387.4516" y2="563.7" stroke="#111" stroke-width="1.1" />
<line x1="387.4516" y1="560.0" x2="387.4516" y2="567.4000000000001" stroke="#111" stroke-width="1.2" />
<rect x="369.6" y="578.6999999999999" width="15.2" height="13.6" fill="#6e6e6e" stroke="#3c3c3c" stroke-width="1"/>
<line x1="384.8436" y1="585.4" x2="386.278" y2="585.4" stroke="#111" stroke-width="1.1" />
<line x1="386.278" y1="581.6999999999999" x2="386.278" y2="589.1" stroke="#111" stroke-width="1.2" />
<line x1="369.0" y1="596.3" x2="369.0" y2="600" stroke="#111" stroke-width="1.1" />
<text x="369.0" y="608.2" font-size="7.6" font-weight="bold" text-anchor="middle" fill="#000" stroke="#000" stroke-width="0.3" >0</text>
<line x1="434.2" y1="596.3" x2="434.2" y2="600" stroke="#111" stroke-width="1.1" />
<text x="434.2" y="608.2" font-size="7.6" font-weight="bold" text-anchor="middle" fill="#000" stroke="#000" stroke-width="0.3" >100</text>
<line x1="499.4" y1="596.3" x2="499.4" y2="600" stroke="#111" stroke-width="1.1" />
<text x="499.4" y="608.2" font-size="7.6" font-weight="bold" text-anchor="middle" fill="#000" stroke="#000" stroke-width="0.3" >200</text>
<text x="309" y="630.2" font-size="10.65" font-weight="bold" text-anchor="middle" fill="#000" stroke="#000" stroke-width="0.43" >relative luciferase activity (%)</text>
<text x="200.5" y="643.3" font-size="10.7" font-weight="bold" text-anchor="middle" fill="#000" stroke="#000" stroke-width="0.43" >CHRF 288-11</text>
<text x="409" y="643.3" font-size="10.7" font-weight="bold" text-anchor="middle" fill="#000" stroke="#000" stroke-width="0.43" >1603MED</text>
<rect x="10" y="621.3" width="10" height="6.8" fill="url(#hl)" stroke="#555" stroke-width="0.9"/>
<text x="22.5" y="623.9" font-size="7.4" font-weight="bold" text-anchor="start" fill="#000" stroke="#000" stroke-width="0.3" >rs2038479</text>
<text x="22.5" y="632.2" font-size="7.4" font-weight="bold" text-anchor="start" fill="#000" stroke="#000" stroke-width="0.3" >MAJOR</text>
<rect x="9" y="645.6" width="10.5" height="6.8" fill="url(#hd)" stroke="#444" stroke-width="0.9"/>
<text x="22.5" y="647.2" font-size="7.4" font-weight="bold" text-anchor="start" fill="#000" stroke="#000" stroke-width="0.3" >rs2038479</text>
<text x="22.5" y="655.3" font-size="7.4" font-weight="bold" text-anchor="start" fill="#000" stroke="#000" stroke-width="0.3" >MINOR</text>
</svg>
</body></html>
